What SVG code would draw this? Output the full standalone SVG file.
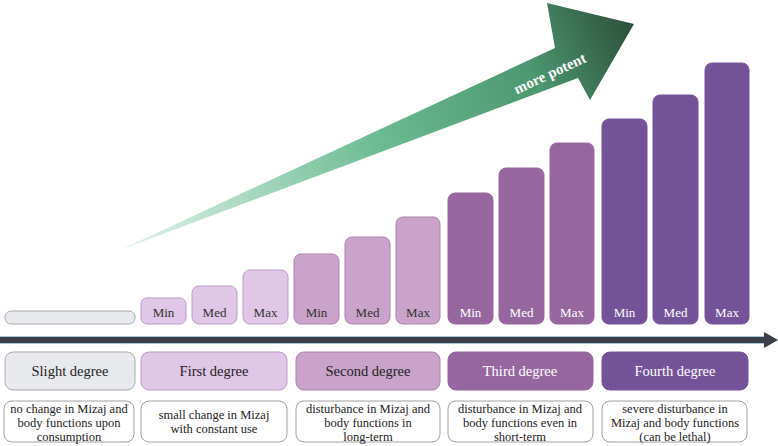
<svg xmlns="http://www.w3.org/2000/svg" width="778" height="446" viewBox="0 0 778 446">
<style>
text{font-family:"Liberation Serif","DejaVu Serif",serif;text-anchor:middle}
.b{font-size:13px;fill:#fff}.bd{font-size:13px;fill:#333}
.d{font-size:14.5px}.t{font-size:12.5px;fill:#222}
.desc{fill:#fff;stroke:#888;stroke-width:0.8}
.s0{fill:#e8e9ed;stroke:#a9aab0}.s1{fill:#e0c6e7;stroke:#b99bc2}.s2{fill:#c9a3c9;stroke:#a982a9}.s3{fill:#96679e;stroke:#96679e}.s4{fill:#745298;stroke:#745298}
</style>
<defs>
<linearGradient id="g" x1="120" y1="250" x2="634" y2="24" gradientUnits="userSpaceOnUse">
<stop offset="0" stop-color="#e3f4ec"/><stop offset="0.5" stop-color="#6cbb92"/><stop offset="0.8" stop-color="#4c9670"/><stop offset="1" stop-color="#2c4f3a"/>
</linearGradient>
</defs>
<g id="potency-arrow">
<polygon points="120,250 555,48 547,3 634,24 590,100 578,78" fill="url(#g)" stroke-linejoin="round"/>
<text x="552" y="78" transform="rotate(-25 552 78)" style="font-size:15px;font-weight:bold;fill:#fff">more potent</text>
</g>
<g id="axis">
<line x1="0" y1="340" x2="766" y2="340" stroke="#a9c8dc" stroke-width="8"/>
<line x1="0" y1="340" x2="766" y2="340" stroke="#3a3f47" stroke-width="6"/>
<polygon points="764,332 778,340 764,348" fill="#3a3f47"/>
</g>
<g id="bars">
<rect class="s0" x="5" y="311" width="130" height="13" rx="6"/>
<rect class="s1" x="141" y="298" width="45" height="26" rx="6"/><text class="bd" x="163.5" y="317">Min</text>
<rect class="s1" x="192" y="286" width="45" height="38" rx="7"/><text class="bd" x="214.5" y="317">Med</text>
<rect class="s1" x="243" y="270" width="45" height="54" rx="7"/><text class="bd" x="265.5" y="317">Max</text>
<rect class="s2" x="294" y="254" width="45" height="70" rx="7"/><text class="bd" x="316.5" y="317">Min</text>
<rect class="s2" x="345" y="237" width="45" height="87" rx="7"/><text class="bd" x="367.5" y="317">Med</text>
<rect class="s2" x="396" y="217" width="44" height="107" rx="7"/><text class="bd" x="418" y="317">Max</text>
<rect class="s3" x="448" y="193" width="45" height="131" rx="7"/><text class="b" x="470.5" y="317">Min</text>
<rect class="s3" x="499" y="168" width="45" height="156" rx="7"/><text class="b" x="521.5" y="317">Med</text>
<rect class="s3" x="550" y="143" width="44" height="181" rx="7"/><text class="b" x="572" y="317">Max</text>
<rect class="s4" x="602" y="119" width="45" height="205" rx="7"/><text class="b" x="624.5" y="317">Min</text>
<rect class="s4" x="653" y="95" width="45" height="229" rx="7"/><text class="b" x="675.5" y="317">Med</text>
<rect class="s4" x="705" y="63" width="44" height="261" rx="7"/><text class="b" x="727" y="317">Max</text>
</g>
<g id="slight">
<rect class="s0" x="5" y="352" width="130" height="38" rx="8"/><text class="d" x="70" y="376" fill="#222">Slight degree</text>
<rect class="desc" x="4" y="401" width="130" height="41" rx="8"/>
<text class="t" x="69" y="413">no change in Mizaj and</text><text class="t" x="69" y="427">body functions upon</text><text class="t" x="69" y="441">consumption</text>
</g>
<g id="first">
<rect class="s1" x="141" y="352" width="146" height="38" rx="8"/><text class="d" x="214" y="376" fill="#222">First degree</text>
<rect class="desc" x="141" y="401" width="146" height="41" rx="8"/>
<text class="t" x="214" y="419">small change in Mizaj</text><text class="t" x="214" y="433">with constant use</text>
</g>
<g id="second">
<rect class="s2" x="296" y="352" width="144" height="38" rx="8"/><text class="d" x="368" y="376" fill="#222">Second degree</text>
<rect class="desc" x="296" y="401" width="144" height="41" rx="8"/>
<text class="t" x="368" y="413">disturbance in Mizaj and</text><text class="t" x="368" y="427">body functions in</text><text class="t" x="368" y="441">long-term</text>
</g>
<g id="third">
<rect class="s3" x="448" y="352" width="145" height="38" rx="8"/><text class="d" x="520" y="376" fill="#fff">Third degree</text>
<rect class="desc" x="448" y="401" width="145" height="41" rx="8"/>
<text class="t" x="520" y="413">disturbance in Mizaj and</text><text class="t" x="520" y="427">body functions even in</text><text class="t" x="520" y="441">short-term</text>
</g>
<g id="fourth">
<rect class="s4" x="602" y="352" width="146" height="38" rx="8"/><text class="d" x="675" y="376" fill="#fff">Fourth degree</text>
<rect class="desc" x="602" y="401" width="145" height="41" rx="8"/>
<text class="t" x="675" y="413">severe disturbance in</text><text class="t" x="675" y="427">Mizaj and body functions</text><text class="t" x="675" y="441">(can be lethal)</text>
</g>
</svg>
